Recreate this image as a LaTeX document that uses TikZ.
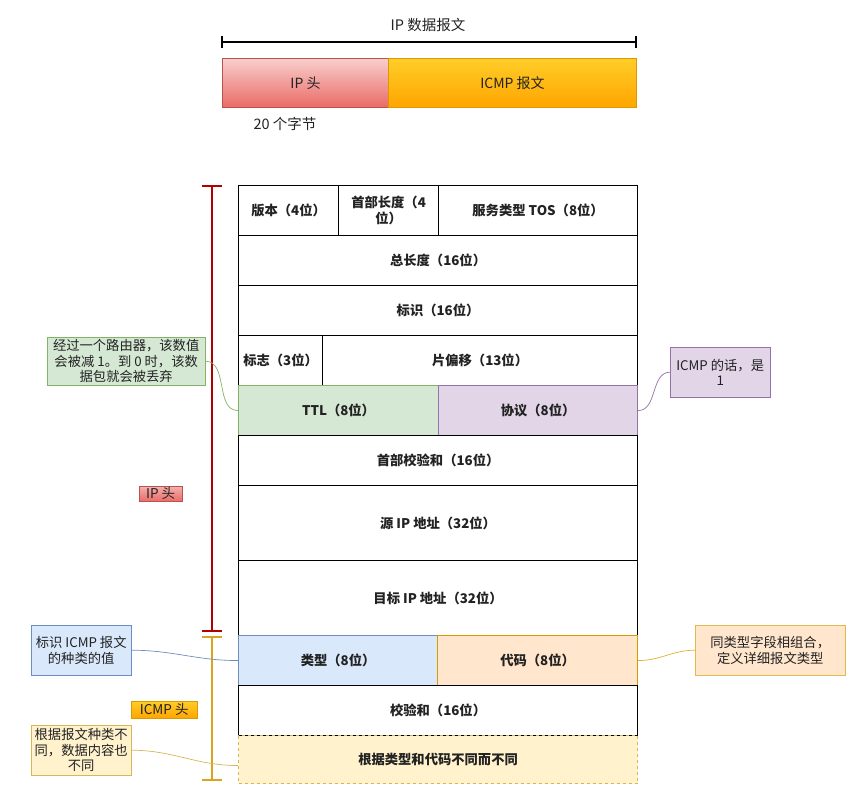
\documentclass[tikz,border=0pt]{standalone}
\usepackage{fontspec}
\setmainfont{Noto Sans CJK SC}
\definecolor{redS}{HTML}{B85450}
\definecolor{redT}{HTML}{F8CECC}
\definecolor{redB}{HTML}{EA6B66}
\definecolor{orS}{HTML}{D79B00}
\definecolor{orT}{HTML}{FFCD28}
\definecolor{orB}{HTML}{FFA500}
\definecolor{grF}{HTML}{D5E8D4}
\definecolor{grS}{HTML}{82B366}
\definecolor{puF}{HTML}{E1D5E7}
\definecolor{puS}{HTML}{9673A6}
\definecolor{blF}{HTML}{DAE8FC}
\definecolor{blS}{HTML}{6C8EBF}
\definecolor{peF}{HTML}{FFE6CC}
\definecolor{yeF}{HTML}{FFF2CC}
\definecolor{yeS}{HTML}{D6B656}
\definecolor{brRed}{HTML}{B20000}
\definecolor{brYe}{HTML}{D9A520}
\definecolor{txt}{HTML}{222222}
\begin{document}
\begin{tikzpicture}[x=1pt,y=-1pt,
  cell/.style={draw=black, line width=1.1pt, anchor=north west, inner sep=1pt, align=center,
     font=\bfseries\fontsize{13.3}{16}\selectfont, text=txt},
  note/.style={draw, anchor=north west, inner sep=2pt, align=center,
     font=\fontsize{13.3}{15.5}\selectfont, text=txt},
  topbox/.style={draw, line width=0.9pt, anchor=north west, inner sep=0pt,
     font=\fontsize{14}{16}\selectfont, text=txt},
  link/.style={line width=0.7pt},
  tag/.style={draw, anchor=north west, inner sep=0pt, font=\fontsize{13.5}{15}\selectfont, text=txt}
]
\useasboundingbox (0,0) rectangle (863,806);

% top part
\node[font=\fontsize{14.5}{16}\selectfont, text=txt] (title) at (428,25) {IP 数据报文};
\coordinate (dl) at (222,42);
\coordinate (dr) at (636,42);
\draw[line width=1.4pt] (dl) -- (dr);
\draw[line width=1.4pt] ([yshift=-6pt]dl) -- ([yshift=6pt]dl);
\draw[line width=1.4pt] ([yshift=-6pt]dr) -- ([yshift=6pt]dr);
\node[topbox, draw=redS, top color=redT, bottom color=redB, minimum width=166pt, minimum height=49pt] (iph) at (222,58) {IP 头};
\node[topbox, draw=orS, top color=orT, bottom color=orB, minimum width=248pt, minimum height=49pt] (icmpm) at (388,58) {ICMP 报文};
\node[font=\fontsize{14.5}{16}\selectfont, text=txt] (bytes) at (285,124) {20 个字节};

% table
\node[cell, minimum width=100pt, minimum height=50pt] (ver) at (238,185) {版本（4位）};
\node[cell, minimum width=100pt, minimum height=50pt] (hl) at (338,185) {首部长度（4\\位）};
\node[cell, minimum width=199pt, minimum height=50pt] (tos) at (438,185) {服务类型 TOS（8位）};
\node[cell, minimum width=399pt, minimum height=50pt] (tl) at (238,235) {总长度（16位）};
\node[cell, minimum width=399pt, minimum height=50pt] (id) at (238,285) {标识（16位）};
\node[cell, minimum width=84pt, minimum height=50pt] (flag) at (238,335) {标志（3位）};
\node[cell, minimum width=315pt, minimum height=50pt] (frag) at (322,335) {片偏移（13位）};
\node[cell, draw=grS, fill=grF, minimum width=200pt, minimum height=50pt] (ttl) at (238,385) {TTL（8位）};
\node[cell, draw=puS, fill=puF, minimum width=199pt, minimum height=50pt] (proto) at (438,385) {协议（8位）};
\node[cell, minimum width=399pt, minimum height=50pt] (hcs) at (238,435) {首部校验和（16位）};
\node[cell, minimum width=399pt, minimum height=75pt] (src) at (238,485) {源 IP 地址（32位）};
\node[cell, minimum width=399pt, minimum height=75pt] (dst) at (238,560) {目标 IP 地址（32位）};
\node[cell, draw=blS, fill=blF, minimum width=199pt, minimum height=50pt] (type) at (238,635) {类型（8位）};
\node[cell, draw=orS, fill=peF, minimum width=200pt, minimum height=50pt] (code) at (437,635) {代码（8位）};
\node[cell, minimum width=399pt, minimum height=50pt] (cks) at (238,685) {校验和（16位）};
\node[cell, draw=yeS, fill=yeF, dashed, minimum width=399pt, minimum height=48pt] (data) at (238,735) {根据类型和代码不同而不同};

% brackets
\coordinate (rt) at (212,186);
\coordinate (rb) at (212,631);
\coordinate (yt) at (212,637);
\coordinate (yb) at (212,780);
\draw[brRed, line width=2pt] (rt) -- (rb);
\draw[brRed, line width=2pt] ([xshift=-10pt]rt) -- ([xshift=10pt]rt);
\draw[brRed, line width=2pt] ([xshift=-10pt]rb) -- ([xshift=10pt]rb);
\draw[brYe, line width=2pt] (yt) -- (yb);
\draw[brYe, line width=2pt] ([xshift=-10pt]yt) -- ([xshift=10pt]yt);
\draw[brYe, line width=2pt] ([xshift=-10pt]yb) -- ([xshift=10pt]yb);

\node[tag, draw=redS, top color=redT!70!redB, bottom color=redB, minimum width=43pt, minimum height=15pt] (iptag) at (139,486) {IP 头};
\node[tag, draw=orS, top color=orT, bottom color=orB, minimum width=66pt, minimum height=17pt] (icmptag) at (131,701) {ICMP 头};

% callouts
\node[note, draw=grS, fill=grF, minimum width=158pt, minimum height=48pt] (n1) at (47,337) {经过一个路由器，该数值\\会被减 1。到 0 时，该数\\据包就会被丢弃};
\node[note, draw=puS, fill=puF, minimum width=100pt, minimum height=50pt] (n2) at (670,347) {ICMP 的话，是\\1};
\node[note, draw=blS, fill=blF, minimum width=100pt, minimum height=50pt] (n3) at (31,625) {标识 ICMP 报文\\的种类的值};
\node[note, draw=orS!70, fill=peF, minimum width=150pt, minimum height=50pt] (n4) at (695,625) {同类型字段相组合，\\定义详细报文类型};
\node[note, draw=yeS, fill=yeF, minimum width=100pt, minimum height=50pt] (n5) at (31,725) {根据报文种类不\\同，数据内容也\\不同};

\draw[link, grS] (n1.east) to[out=0, in=180] (ttl.west);
\draw[link, puS] (n2.west) to[out=180, in=0] (proto.east);
\draw[link, blS] (n3.east) to[out=0, in=180] (type.west);
\draw[link, orS!80] (n4.west) to[out=180, in=0] (code.east);
\draw[link, yeS] (n5.east) to[out=0, in=180] ([yshift=-6pt]data.west);
\end{tikzpicture}
\end{document}
